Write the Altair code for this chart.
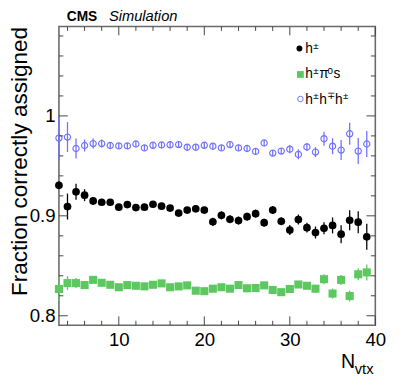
import altair as alt
import pandas as pd

# ---------------- data ----------------
n_vtx = list(range(3, 40))

h1 = [0.9305, 0.9093, 0.9240, 0.9207, 0.9149, 0.9136, 0.9136, 0.9087, 0.9113, 0.9083,
      0.9087, 0.9116, 0.9097, 0.9078, 0.9028, 0.9058, 0.9070, 0.9058, 0.8940, 0.9005,
      0.8966, 0.8953, 0.8992, 0.9022, 0.8931, 0.9058, 0.8946, 0.8858, 0.8963, 0.8882,
      0.8833, 0.8875, 0.8904, 0.8816, 0.8956, 0.8936, 0.8790]
h1_err = [0.004, 0.013, 0.008, 0.006, 0.004, 0.003, 0.003, 0.003, 0.003, 0.003,
          0.003, 0.003, 0.003, 0.003, 0.003, 0.003, 0.003, 0.003, 0.004, 0.004,
          0.004, 0.004, 0.004, 0.004, 0.004, 0.004, 0.004, 0.005, 0.005, 0.005,
          0.006, 0.006, 0.008, 0.009, 0.010, 0.011, 0.013]

hpi0 = [0.8268, 0.8327, 0.8327, 0.8307, 0.8359, 0.8330, 0.8310, 0.8285, 0.8307, 0.8300,
        0.8294, 0.8310, 0.8324, 0.8285, 0.8294, 0.8304, 0.8251, 0.8246, 0.8271, 0.8285,
        0.8271, 0.8307, 0.8275, 0.8278, 0.8304, 0.8258, 0.8236, 0.8268, 0.8313, 0.8300,
        0.8271, 0.8366, 0.8222, 0.8359, 0.8197, 0.8415, 0.8434]
hpi0_err = [0.012, 0.007, 0.005, 0.003, 0.003, 0.003, 0.003, 0.003, 0.003, 0.003,
            0.003, 0.003, 0.003, 0.003, 0.003, 0.003, 0.003, 0.003, 0.003, 0.003,
            0.003, 0.003, 0.003, 0.003, 0.003, 0.003, 0.003, 0.003, 0.003, 0.003,
            0.004, 0.005, 0.005, 0.005, 0.0055, 0.006, 0.008]

h3 = [0.9778, 0.9788, 0.9674, 0.9704, 0.9723, 0.9723, 0.9704, 0.9700, 0.9700, 0.9719,
      0.9680, 0.9706, 0.9709, 0.9711, 0.9713, 0.9687, 0.9687, 0.9706, 0.9697, 0.9680,
      0.9713, 0.9680, 0.9674, 0.9645, 0.9729, 0.9628, 0.9648, 0.9667, 0.9615, 0.9690,
      0.9638, 0.9772, 0.9697, 0.9658, 0.9821, 0.9648, 0.9719]
h3_err = [0.022, 0.015, 0.010, 0.006, 0.005, 0.004, 0.003, 0.003, 0.003, 0.003,
          0.003, 0.003, 0.003, 0.003, 0.003, 0.003, 0.003, 0.003, 0.003, 0.003,
          0.003, 0.003, 0.003, 0.003, 0.003, 0.003, 0.003, 0.004, 0.005, 0.004,
          0.005, 0.007, 0.008, 0.010, 0.011, 0.013, 0.013]

x_major = [10, 20, 30, 40]
x_minor = [4, 6, 8, 12, 14, 16, 18, 22, 24, 26, 28, 32, 34, 36, 38]
y_major = [0.8, 0.9, 1.0]
y_minor = [0.82, 0.84, 0.86, 0.88, 0.92, 0.94, 0.96, 0.98, 1.02, 1.04, 1.06, 1.08]

# ---------------- styling ----------------
W, H = 323, 305
FONT = "Liberation Sans"
BLACK = "#000000"
GREEN = "#5cc85f"
BLUE = "#7272ff"
TICK = "#444444"

xscale = alt.Scale(domain=[3, 40], nice=False, zero=False)
yscale = alt.Scale(domain=[0.7905, 1.0895], nice=False, zero=False)

xaxis = alt.Axis(values=x_major, title=None, ticks=False, tickSize=0, domain=False, grid=False,
                 labelFont=FONT, labelFontSize=19, labelColor=BLACK, labelPadding=6,
                 labelFlush=False)
yaxis = alt.Axis(values=y_major, format=".1~f", ticks=False, tickSize=0, domain=False, grid=False,
                 labelFont=FONT, labelFontSize=19, labelColor=BLACK, labelPadding=4,
                 title="Fraction correctly assigned", titleFont=FONT, titleFontSize=23,
                 titleFontWeight="normal", titleColor=BLACK, titleX=-33, titleY=0,
                 titleAlign="right", titleAngle=270, titleBaseline="alphabetic")


def X(field):
    return alt.X(field, type="quantitative", scale=xscale, axis=xaxis)


def Y(field):
    return alt.Y(field, type="quantitative", scale=yscale, axis=yaxis)


def series_df(vals, errs):
    return pd.DataFrame({
        "x": n_vtx,
        "y": vals,
        "lo": [v - e for v, e in zip(vals, errs)],
        "hi": [v + e for v, e in zip(vals, errs)],
    })


d1 = series_df(h1, h1_err)
d2 = series_df(hpi0, hpi0_err)
d3 = series_df(h3, h3_err)

layers = []

# error bars
for d, c in [(d2, GREEN), (d3, BLUE), (d1, BLACK)]:
    layers.append(alt.Chart(d).mark_rule(color=c, strokeWidth=1.3).encode(
        x=X("x"), y=Y("lo"), y2="hi"))

# markers
layers.append(alt.Chart(d2).mark_square(color=GREEN, size=68, opacity=1).encode(x=X("x"), y=Y("y")))
layers.append(alt.Chart(d3).mark_point(shape="circle", filled=False, color=BLUE, size=40,
                                       strokeWidth=1.2, opacity=1).encode(x=X("x"), y=Y("y")))
layers.append(alt.Chart(d1).mark_circle(color=BLACK, size=62, opacity=1).encode(x=X("x"), y=Y("y")))


# inward ticks on all four sides
def xtick_layer(vals, length, top):
    y0, y1 = (0, length) if top else (H, H - length)
    return alt.Chart(pd.DataFrame({"x": vals})).mark_rule(color=TICK, strokeWidth=1).encode(
        x=X("x"), y=alt.value(y0), y2=alt.value(y1))


def ytick_layer(vals, length, right):
    x0, x1 = (W, W - length) if right else (0, length)
    return alt.Chart(pd.DataFrame({"y": vals})).mark_rule(color=TICK, strokeWidth=1).encode(
        y=Y("y"), x=alt.value(x0), x2=alt.value(x1))


for side in (False, True):
    layers.append(xtick_layer(x_major, 9, side))
    layers.append(xtick_layer(x_minor, 4.5, side))
    layers.append(ytick_layer(y_major, 9, side))
    layers.append(ytick_layer(y_minor, 4.5, side))


def text(t, x, y, size, style="normal", weight="normal", color=BLACK):
    return alt.Chart(pd.DataFrame({"t": [t]})).mark_text(
        align="left", baseline="alphabetic", font=FONT, fontSize=size,
        fontStyle=style, fontWeight=weight, color=color).encode(
        x=alt.value(x), y=alt.value(y), text="t:N")


# header
layers.append(text("CMS", 8, -6, 14, weight="bold"))
layers.append(text("Simulation", 51, -6, 15, style="italic"))

# x title N_vtx
layers.append(text("N", 288, 349, 20))
layers.append(text("vtx", 302, 355, 15))

# legend symbols
sym = pd.DataFrame({"a": [0]})
layers.append(alt.Chart(sym).mark_circle(color=BLACK, size=36, opacity=1).encode(
    x=alt.value(245.5), y=alt.value(22.5)))
layers.append(alt.Chart(sym).mark_square(color=GREEN, size=48, opacity=1).encode(
    x=alt.value(246.5), y=alt.value(49)))
layers.append(alt.Chart(sym).mark_point(shape="circle", filled=False, color=BLUE, size=32,
                                        strokeWidth=1, opacity=1).encode(
    x=alt.value(246.5), y=alt.value(74)))

# legend labels (with superscripts)
MAIN, SUP = 14, 10
rows = [
    (27, [("h", 251.5, 0), ("±", 259.6, 1)]),
    (53, [("h", 251.5, 0), ("±", 259.6, 1), ("π", 265.8, 0), ("0", 274.2, 1), ("s", 280.2, 0)]),
    (79, [("h", 251.5, 0), ("±", 259.6, 1), ("h", 265.8, 0), ("∓", 274.0, 1),
          ("h", 281.8, 0), ("±", 289.9, 1)]),
]
for base, segs in rows:
    for t, x, sup in segs:
        if sup:
            layers.append(text(t, x, base - 4.5, SUP))
        else:
            layers.append(text(t, x, base, MAIN))

chart = alt.layer(*layers).properties(
    width=W, height=H,
    autosize=alt.AutoSizeParams(type="none"),
    padding={"left": 52, "top": 15, "right": 16, "bottom": 51},
).configure_view(stroke="#6a6a6a", strokeWidth=1.6)

chart.save("out.html", embed_options={"renderer": "svg", "actions": False})
